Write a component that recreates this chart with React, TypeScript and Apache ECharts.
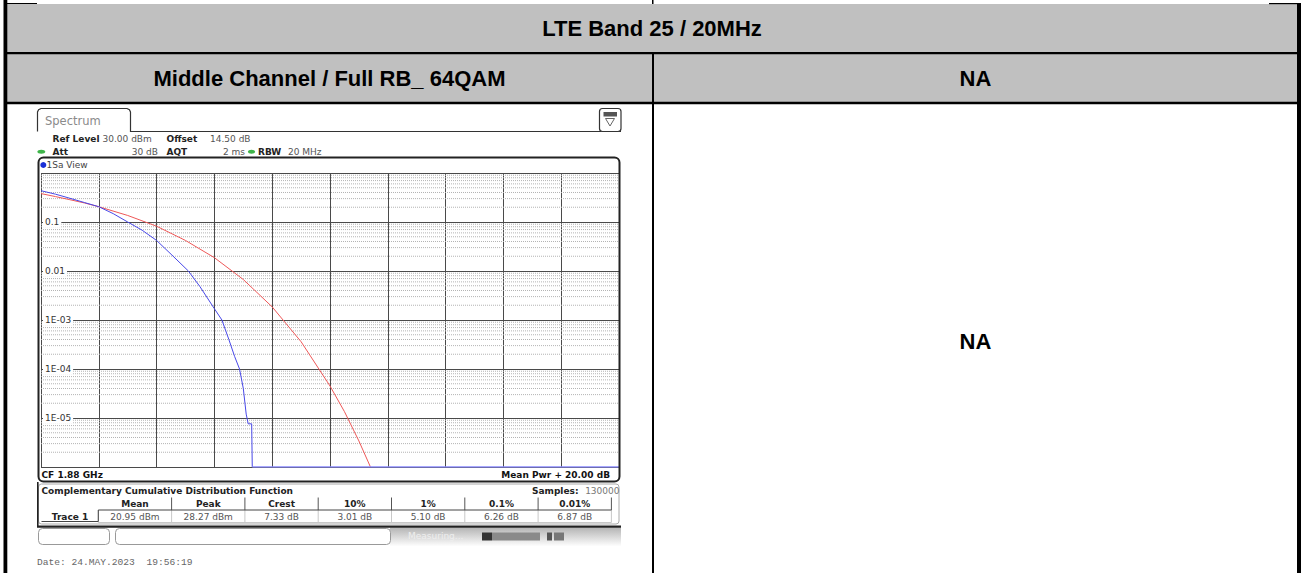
import React, { useEffect, useRef } from "react";
import * as echarts from "echarts";

// ---------- data ----------
const titleText = "LTE Band 25 / 20MHz";
const headerLeft = "Middle Channel / Full RB_ 64QAM";
const headerRight = "NA";
const cellRight = "NA";

const xMin = 0;
const xMax = 20;
const xStep = 2;

const yTickValues = [1, 0.1, 0.01, 0.001, 0.0001, 0.00001, 0.000001];
const yTickLabels = ["1", "0.1", "0.01", "1E-03", "1E-04", "1E-05", "1E-06"];

// Gaussian reference curve (red), x in dB above mean power, y = probability
const gaussDb = [0, 0.5, 1, 1.5, 2, 3, 4, 5, 6, 7, 8, 9, 10, 10.5, 11, 11.4];
const gaussProb = [0.38, 0.33, 0.285, 0.245, 0.205, 0.136, 0.082, 0.042, 0.0187, 0.0067, 0.00185, 0.00036, 0.000045, 0.0000135, 0.0000034, 0.000001];

// Measured trace (blue)
const traceDb = [0, 0.5, 1, 1.5, 2, 2.5, 3, 3.5, 4, 4.5, 5.1, 5.5, 6, 6.26, 6.5, 6.7, 6.87, 7.0, 7.1, 7.17, 7.29, 7.31];
const traceProb = [0.435, 0.37, 0.305, 0.25, 0.205, 0.148, 0.1, 0.068, 0.042, 0.022, 0.01, 0.0048, 0.0017, 0.001, 0.0004, 0.00018, 0.0001, 0.00004, 0.000012, 0.0000076, 0.0000076, 0.000001];
const floorDb = [7.31, 20];
const floorProb = [0.000001, 0.000001];

const statHeaders = ["Mean", "Peak", "Crest", "10%", "1%", "0.1%", "0.01%"];
const statValues = ["20.95 dBm", "28.27 dBm", "7.33 dB", "3.01 dB", "5.10 dB", "6.26 dB", "6.87 dB"];
const traceName = "Trace 1";
const sampleCount = "130000";
const refLevelText = "30.00 dBm";
const offsetText = "14.50 dB";
const attText = "30 dB";
const aqtText = "2 ms";
const rbwText = "20 MHz";
const cfText = "CF 1.88 GHz";
const spanText = "Mean Pwr + 20.00 dB";
const viewText = "1Sa View";
const dateText = "Date: 24.MAY.2023  19:56:19";

// ---------- styling helpers ----------
const AF = '"DejaVu Sans", Verdana, sans-serif';
const AR = '"Liberation Sans", Arial, sans-serif';
const MONO = '"Liberation Mono", "DejaVu Sans Mono", monospace';

function txt(x: number, y: number, text: string, size: number, opts: any = {}) {
  return {
    type: "text",
    x,
    y,
    silent: true,
    z: 10,
    style: {
      text,
      fontSize: size,
      fontFamily: opts.family || AF,
      fontWeight: opts.bold ? "bold" : "normal",
      fill: opts.color || "#222",
      align: opts.align || "left",
      verticalAlign: "middle",
    },
  };
}
function box(x: number, y: number, w: number, h: number, fill: string, extra: any = {}) {
  return { type: "rect", silent: true, shape: { x, y, width: w, height: h, r: extra.r || 0 }, style: { fill, stroke: extra.stroke || null, lineWidth: extra.lw || 1 }, z: extra.z || 1 };
}
function ln(x1: number, y1: number, x2: number, y2: number, color: string, lw = 1) {
  return { type: "line", silent: true, z: 5, shape: { x1, y1, x2, y2 }, style: { stroke: color, lineWidth: lw } };
}

function buildGraphics() {
  const g: any[] = [];
  // outer document table
  g.push(box(7, 4, 1290, 98, "#c0c0c0"));
  g.push(box(3.5, 0, 3.8, 573, "#000"));
  g.push(box(1297, 3, 4, 570, "#000"));
  g.push(box(7, 3, 30, 1, "#000"));
  g.push(box(1269, 3, 28, 1.2, "#000"));
  g.push(box(7, 52, 1290, 2.2, "#000"));
  g.push(box(7, 101.8, 1290, 2.5, "#000"));
  g.push(box(652, 52, 2, 521, "#000"));
  g.push(box(652, 0, 1.5, 4, "#000"));
  g.push(txt(652, 28.5, titleText, 22, { family: AR, bold: true, color: "#000", align: "center" }));
  g.push(txt(329.5, 78.5, headerLeft, 22, { family: AR, bold: true, color: "#000", align: "center" }));
  g.push(txt(975.5, 78.5, headerRight, 22, { family: AR, bold: true, color: "#000", align: "center" }));
  g.push(txt(975.5, 341, cellRight, 22, { family: AR, bold: true, color: "#000", align: "center" }));

  // analyzer screenshot chrome
  g.push({
    type: "polyline",
    silent: true,
    z: 5,
    shape: { points: [[37.5, 131.5], [37.5, 112], [38.6, 109.7], [41, 108.5], [127, 108.5], [129.4, 109.7], [130.5, 112], [130.5, 131.5], [621, 131.5]] },
    style: { stroke: "#333", lineWidth: 1.2, fill: null },
  });
  g.push(txt(45, 120.5, "Spectrum", 11.5, { color: "#8a8a8a" }));
  g.push(box(599.5, 108.5, 21.5, 23, "#fff", { r: 3, stroke: "#333", lw: 1.2, z: 6 }));
  g.push(box(603.5, 112, 13.5, 4.5, "#555", { z: 7 }));
  g.push({ type: "polygon", silent: true, z: 7, shape: { points: [[605.5, 118.5], [614.5, 118.5], [610, 126]] }, style: { fill: "#fff", stroke: "#666", lineWidth: 1 } });

  g.push(txt(52.5, 139, "Ref Level", 9, { bold: true }));
  g.push(txt(102.5, 139, refLevelText, 9, { color: "#555" }));
  g.push(txt(166.5, 139, "Offset", 9, { bold: true }));
  g.push(txt(210, 139, offsetText, 9, { color: "#555" }));
  g.push({ type: "ellipse", silent: true, z: 6, shape: { cx: 41.3, cy: 151.8, rx: 4, ry: 2 }, style: { fill: "#3fb54a" } });
  g.push(txt(52.5, 152, "Att", 9, { bold: true }));
  g.push(txt(158, 152, attText, 9, { color: "#555", align: "right" }));
  g.push(txt(166.5, 152, "AQT", 9, { bold: true }));
  g.push(txt(245, 152, aqtText, 9, { color: "#555", align: "right" }));
  g.push({ type: "ellipse", silent: true, z: 6, shape: { cx: 251.5, cy: 151.8, rx: 3.6, ry: 2 }, style: { fill: "#3fb54a" } });
  g.push(txt(258, 152, "RBW", 9, { bold: true }));
  g.push(txt(288, 152, rbwText, 9, { color: "#555" }));

  // plot frame
  g.push(box(38.5, 157.5, 581, 324, "none", { r: 5, stroke: "#222", lw: 2, z: 6 }));
  g.push({ type: "circle", silent: true, z: 6, shape: { cx: 43.3, cy: 165, r: 3 }, style: { fill: "#1a2fd6" } });
  g.push(txt(46.5, 165, viewText, 9, { color: "#444" }));
  g.push(txt(41.5, 474.5, cfText, 9, { bold: true, color: "#111" }));
  g.push(txt(610, 474.5, spanText, 9, { bold: true, color: "#111", align: "right" }));

  // statistics table
  g.push(box(38.5, 484, 580.5, 40, "none", { r: 3, stroke: "#aaa", lw: 1, z: 4 }));
  g.push(ln(37.8, 482, 37.8, 527, "#222", 1.6));
  g.push(txt(41.5, 490.5, "Complementary Cumulative Distribution Function", 9, { bold: true }));
  g.push(txt(578.5, 490.5, "Samples:", 9, { bold: true, align: "right" }));
  g.push(txt(619.5, 490.5, sampleCount, 9, { color: "#777", align: "right" }));
  const x0 = 98.3;
  const cw = 73.3;
  for (let i = 0; i <= statHeaders.length; i++) {
    const xe = x0 + i * cw;
    if (i > 0) g.push(ln(xe, 497.5, xe, 510, "#555", 1));
    g.push(ln(xe, 510, xe, 522.5, "#c8c8c8", 1));
  }
  statHeaders.forEach((h, i) => {
    g.push(txt(x0 + (i + 0.5) * cw, 504, h, 9, { bold: true, align: "center" }));
    g.push(txt(x0 + (i + 0.5) * cw, 516.5, statValues[i], 9, { color: "#555", align: "center" }));
  });
  g.push({
    type: "polyline",
    silent: true,
    z: 5,
    shape: { points: [[41.5, 521.5], [x0, 521.5], [x0, 510], [x0 + statHeaders.length * cw, 510]] },
    style: { stroke: "#444", lineWidth: 1, fill: null },
  });
  g.push(ln(x0, 522.5, x0 + statHeaders.length * cw, 522.5, "#c8c8c8", 1));
  g.push(txt(70, 517, traceName, 9, { bold: true, align: "center" }));

  // status bar
  g.push({
    type: "rect",
    silent: true,
    z: 2,
    shape: { x: 390, y: 527.5, width: 231, height: 19 },
    style: {
      fill: new echarts.graphic.LinearGradient(0, 0, 0, 1, [
        { offset: 0, color: "#b4b4b4" },
        { offset: 1, color: "#ffffff" },
      ]),
    },
  });
  g.push(ln(37, 526.6, 621, 526.6, "#222", 2.4));
  g.push(txt(408, 535.5, "Measuring...", 9, { color: "#eeeeee" }));
  g.push(box(482, 532.5, 10, 8, "#333", { z: 6 }));
  g.push(box(492, 532.5, 48, 8, "#8a8a8a", { z: 6 }));
  g.push(box(547, 532.5, 5, 8, "#555", { z: 6 }));
  g.push(box(554, 532.5, 10, 8, "#777", { z: 6 }));
  g.push(box(38.5, 528.5, 71, 16, "#fff", { r: 4, stroke: "#999", lw: 1, z: 6 }));
  g.push(ln(95, 530, 95, 543, "#ddd", 1));
  g.push(box(115.5, 528.5, 275, 16, "#fff", { r: 4, stroke: "#999", lw: 1, z: 6 }));
  g.push(ln(375, 530, 375, 543, "#ddd", 1));

  g.push(txt(37, 562, dateText, 9.6, { family: MONO, color: "#666" }));
  return g;
}

function buildOption(): any {
  // log-axis minor grid lines at k * 10^e (grid construction, not data)
  const minorSeries: any[] = [];
  for (let e = -6; e <= -1; e++) {
    for (let k = 2; k <= 9; k++) {
      const v = k * Math.pow(10, e);
      minorSeries.push({
        type: "line",
        name: "minor",
        silent: true,
        data: [[xMin, v], [xMax, v]],
        showSymbol: false,
        symbol: "none",
        lineStyle: { color: "#b4b4b4", type: [1, 1], width: 1 },
        z: 1,
      });
    }
  }
  const labelFor = (v: number) => {
    const e = Math.round(Math.log10(v));
    const i = yTickValues.findIndex((t) => Math.round(Math.log10(t)) === e);
    return i >= 0 ? yTickLabels[i] : "";
  };
  return {
    animation: false,
    backgroundColor: "#ffffff",
    grid: { left: 41, top: 173, width: 578, height: 294, containLabel: false },
    xAxis: {
      type: "value",
      min: xMin,
      max: xMax,
      interval: xStep,
      axisLine: { show: false },
      axisTick: { show: false },
      axisLabel: { show: false },
      splitLine: { show: true, lineStyle: { color: "#4a4a4a", width: 1 } },
    },
    yAxis: {
      type: "log",
      logBase: 10,
      min: yTickValues[yTickValues.length - 1],
      max: yTickValues[0],
      axisLine: { show: false },
      axisTick: { show: false },
      axisLabel: {
        inside: true,
        margin: 2,
        showMinLabel: false,
        showMaxLabel: false,
        formatter: labelFor,
        fontSize: 9,
        fontFamily: AF,
        color: "#333",
        backgroundColor: "#ffffff",
        padding: [1, 2, 1, 2],
      },
      splitLine: { show: true, lineStyle: { color: "#4a4a4a", width: 1 } },
      z: 3,
    },
    series: [
      ...minorSeries,
      {
        type: "line",
        name: "Gaussian",
        data: gaussDb.map((x, i) => [x, gaussProb[i]]),
        showSymbol: false,
        symbol: "none",
        lineStyle: { color: "#ee5858", width: 1 },
        z: 3,
      },
      {
        type: "line",
        name: traceName,
        data: traceDb.map((x, i) => [x, traceProb[i]]),
        showSymbol: false,
        symbol: "none",
        lineStyle: { color: "#4848e8", width: 1 },
        z: 4,
      },
      {
        type: "line",
        name: traceName + " floor",
        data: floorDb.map((x, i) => [x, floorProb[i]]),
        showSymbol: false,
        symbol: "none",
        lineStyle: { color: "#8a8aff", width: 1.5 },
        z: 4,
      },
    ],
    graphic: { elements: buildGraphics() },
  };
}

export default function App() {
  const ref = useRef<HTMLDivElement>(null);
  useEffect(() => {
    if (!ref.current) return;
    const chart = echarts.init(ref.current, null, { renderer: "svg" });
    chart.setOption(buildOption());
    return () => chart.dispose();
  }, []);
  return (
    <div
      ref={ref}
      style={{ position: "fixed", left: 0, top: 0, width: "1301px", height: "573px", background: "#fff" }}
    />
  );
}
